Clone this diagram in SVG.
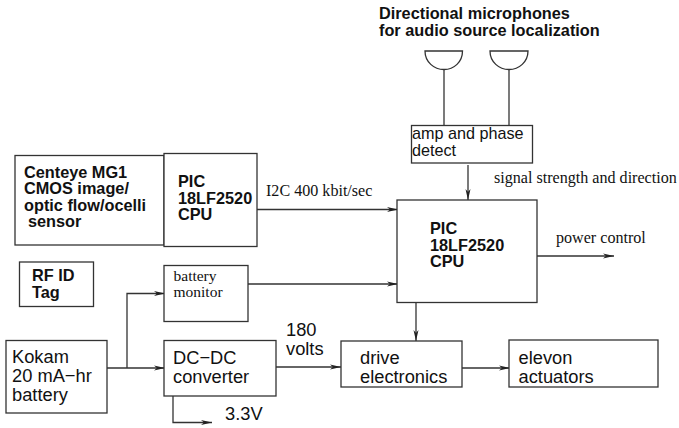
<svg xmlns="http://www.w3.org/2000/svg" width="679" height="428" viewBox="0 0 679 428">
<style>
.b{fill:#fff;stroke:#333;stroke-width:1.3}
.c{fill:none;stroke:#333;stroke-width:1.3}
text{fill:#111;font-family:"Liberation Sans",Arial,sans-serif}
.s{font-size:18.3px}
.a{font-size:16.2px}
.h{font-size:16.3px;font-weight:bold}
.t{font-family:"Liberation Serif","Times New Roman",serif;font-size:16.1px}
.m{font-size:15.5px}
</style>
<defs>
<marker id="a" markerUnits="userSpaceOnUse" markerWidth="12" markerHeight="8" refX="11" refY="4" orient="auto">
<path d="M0 1.500L11 4L0 6.500L3 4Z" fill="#222"/>
</marker>
</defs>
<g id="connectors">
<path class="c" d="M257 209.500H398" marker-end="url(#a)"/>
<path class="c" d="M248 284H398" marker-end="url(#a)"/>
<path class="c" d="M107 368H165" marker-end="url(#a)"/>
<path class="c" d="M127 368V293.500H165" marker-end="url(#a)"/>
<path class="c" d="M276 367H341" marker-end="url(#a)"/>
<path class="c" d="M173 396V422.500H212" marker-end="url(#a)"/>
<path class="c" d="M462 368H510" marker-end="url(#a)"/>
<path class="c" d="M537 256H614" marker-end="url(#a)"/>
<path class="c" d="M416 303V341" marker-end="url(#a)"/>
<path class="c" d="M468 165V200" marker-end="url(#a)"/>
<path class="c" d="M444 69V125.500"/>
<path class="c" d="M509 69V125.500"/>
</g>
<g id="mic1"><path class="c" d="M425 51H462.500C462.500 62 454 69.500 444 69.500C434 69.500 425 62 425 51Z"/></g>
<g id="mic2"><path class="c" d="M490 51H528C528 62 519 69.500 509 69.500C499 69.500 490 62 490 51Z"/></g>
<g id="mic-label">
<text class="h" x="379" y="18.500">Directional microphones</text>
<text class="h" x="379" y="36">for audio source localization</text>
</g>
<g id="amp"><rect class="b" x="411.500" y="125.500" width="121" height="37.500"/>
<text class="a" x="412" y="138.500">amp and phase</text>
<text class="a" x="412" y="155.500">detect</text></g>
<g id="sensor"><rect class="b" x="15" y="155.500" width="149" height="89.500"/>
<text class="h" x="24" y="177.500">Centeye MG1</text>
<text class="h" x="24" y="194">CMOS image/</text>
<text class="h" x="24" y="211">optic flow/ocelli</text>
<text class="h" x="28" y="227">sensor</text></g>
<g id="cpu1"><rect class="b" x="164" y="153.500" width="93" height="93"/>
<text class="h" x="178" y="187">PIC</text>
<text class="h" x="178" y="203.500">18LF2520</text>
<text class="h" x="178" y="220">CPU</text></g>
<g id="cpu2"><rect class="b" x="397" y="200" width="140" height="102.500"/>
<text class="h" x="430" y="234">PIC</text>
<text class="h" x="430" y="250.500">18LF2520</text>
<text class="h" x="430" y="267">CPU</text></g>
<g id="rfid"><rect class="b" x="19.500" y="262" width="74" height="44.500"/>
<text class="h" x="32" y="280.500">RF ID</text>
<text class="h" x="32" y="298">Tag</text></g>
<g id="monitor"><rect class="b" x="164" y="265.500" width="84" height="56"/>
<text class="t m" x="173.500" y="280.500">battery</text>
<text class="t m" x="173.500" y="297">monitor</text></g>
<g id="battery"><rect class="b" x="6" y="340.500" width="101" height="72.500"/>
<text class="s" x="12" y="363">Kokam</text>
<text class="s" x="12" y="382">20 mA−hr</text>
<text class="s" x="12" y="400.500">battery</text></g>
<g id="dcdc"><rect class="b" x="164" y="340.500" width="112" height="55.500"/>
<text class="s" x="173" y="364">DC−DC</text>
<text class="s" x="173" y="383">converter</text></g>
<g id="drive"><rect class="b" x="341" y="341" width="121" height="46"/>
<text class="s" x="360" y="363.500">drive</text>
<text class="s" x="360" y="382.500">electronics</text></g>
<g id="elevon"><rect class="b" x="509" y="340" width="149" height="47"/>
<text class="s" x="518.500" y="363.500">elevon</text>
<text class="s" x="518.500" y="382.500">actuators</text></g>
<g id="labels">
<text class="t" x="266" y="196">I2C 400 kbit/sec</text>
<text class="t" x="494" y="183">signal strength and direction</text>
<text class="t" x="556" y="242.500">power control</text>
<text class="s" x="286" y="336">180</text>
<text class="s" x="286" y="355">volts</text>
<text class="s" x="225" y="420">3.3V</text>
</g>
</svg>
